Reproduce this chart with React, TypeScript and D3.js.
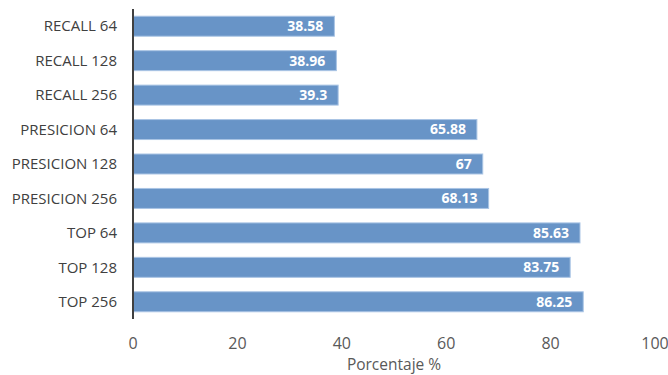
import React from "react";
import * as d3 from "d3";

const categories = [
  "RECALL 64",
  "RECALL 128",
  "RECALL 256",
  "PRESICION 64",
  "PRESICION 128",
  "PRESICION 256",
  "TOP 64",
  "TOP 128",
  "TOP 256",
];
const values = [38.58, 38.96, 39.3, 65.88, 67, 68.13, 85.63, 83.75, 86.25];
const valueLabels = ["38.58", "38.96", "39.3", "65.88", "67", "68.13", "85.63", "83.75", "86.25"];
const xTicks = [0, 20, 40, 60, 80, 100];
const xTitle = "Porcentaje %";

const W = 668;
const H = 375;
const FONT = "'Open Sans', 'Liberation Sans', sans-serif";

export default function App() {
  const x = d3.scaleLinear().domain([0, 100]).range([133, 655]);
  const y = d3.scaleBand<string>().domain(categories).range([9, 319]).paddingInner(0.42).paddingOuter(0.21);

  return (
    <svg
      width={W}
      height={H}
      style={{ position: "absolute", left: 0, top: 0, background: "#fff" }}
      fontFamily={FONT}
    >
      {categories.map((c, i) => {
        const y0 = y(c)!;
        const bw = y.bandwidth();
        return (
          <g key={c}>
            <rect
              x={x(0)}
              y={y0}
              width={x(values[i]) - x(0)}
              height={bw}
              fill="#6894c7"
              stroke="#a9c4e4"
              strokeWidth={1}
            />
            <text
              x={x(values[i]) - 11}
              y={y0 + bw / 2}
              dy="0.35em"
              textAnchor="end"
              fill="#fff"
              fontWeight="bold"
              fontSize={14}
            >
              {valueLabels[i]}
            </text>
            <text
              x={117}
              y={y0 + bw / 2}
              dy="0.35em"
              textAnchor="end"
              fill="#404040"
              fontSize={15}
            >
              {c}
            </text>
          </g>
        );
      })}
      <line x1={x(0)} x2={x(0)} y1={9} y2={319} stroke="#404040" strokeWidth={2} />
      {xTicks.map((t) => (
        <text key={t} x={x(t)} y={343} dy="0.35em" textAnchor="middle" fill="#595959" fontSize={16}>
          {t}
        </text>
      ))}
      <text x={(x(0) + x(100)) / 2} y={365} dy="0.35em" textAnchor="middle" fill="#595959" fontSize={15.5}>
        {xTitle}
      </text>
    </svg>
  );
}
